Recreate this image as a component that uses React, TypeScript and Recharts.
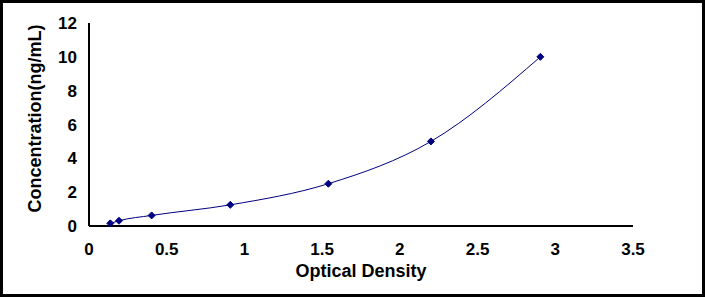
import React from "react";
import { LineChart, Line, XAxis, YAxis, Label, ReferenceDot } from "recharts";

const opticalDensity = [0.137, 0.193, 0.403, 0.909, 1.54, 2.2, 2.904];
const concentration = [0.156, 0.312, 0.625, 1.25, 2.5, 5, 10];
const xTicks = [0, 0.5, 1, 1.5, 2, 2.5, 3, 3.5];
const yTicks = [0, 2, 4, 6, 8, 10, 12];

const data = opticalDensity.map((od, i) => ({ od, conc: concentration[i] }));

const NAVY = "#000080";
const FONT = "'Liberation Sans', Arial, sans-serif";

const Diamond = (props: any) => {
  const { cx, cy } = props;
  if (cx == null || cy == null) return null;
  const r = 3.5;
  return (
    <polygon
      points={`${cx},${cy - r} ${cx + r},${cy} ${cx},${cy + r} ${cx - r},${cy}`}
      fill={NAVY}
      stroke={NAVY}
    />
  );
};

const labelFont = { fill: "#000", fontSize: 17, fontWeight: "bold", fontFamily: FONT };

export default function App() {
  return (
    <div style={{ position: "absolute", left: 0, top: 0, width: 705, height: 297, background: "#fff" }}>
      <LineChart
        width={705}
        height={297}
        data={data}
        margin={{ top: 23, right: 72, bottom: 11, left: 29 }}
      >
        <XAxis
          type="number"
          dataKey="od"
          domain={[0, 3.5]}
          ticks={xTicks}
          interval={0}
          height={60}
          axisLine={{ stroke: "#000", strokeWidth: 2 }}
          tickLine={{ stroke: "#000", strokeWidth: 2 }}
          tickSize={-5}
          tick={false}
        >
          <Label
            value="Optical Density"
            position="center"
            dy={14.5}
            fill="#000"
            fontSize={18}
            fontWeight="bold"
            fontFamily={FONT}
          />
        </XAxis>
        <YAxis
          type="number"
          domain={[0, 12]}
          ticks={yTicks}
          interval={0}
          width={60}
          axisLine={{ stroke: "#000", strokeWidth: 2 }}
          tickLine={{ stroke: "#000", strokeWidth: 2 }}
          tickSize={-5}
          tick={false}
        >
          <Label
            value="Concentration(ng/mL)"
            position="center"
            angle={-90}
            dx={-24.5}
            dy={-6}
            fill="#000"
            fontSize={18}
            fontWeight="bold"
            fontFamily={FONT}
          />
        </YAxis>
        {/* bold tick labels placed through the axis scales */}
        {xTicks.map((v) => (
          <ReferenceDot
            key={`xl-${v}`}
            x={v}
            y={0}
            r={1}
            fill="none"
            stroke="none"
            ifOverflow="visible"
          >
            <Label value={String(v)} position="bottom" offset={16} {...labelFont} />
          </ReferenceDot>
        ))}
        {yTicks.map((v) => (
          <ReferenceDot
            key={`yl-${v}`}
            x={0}
            y={v}
            r={1}
            fill="none"
            stroke="none"
            ifOverflow="visible"
          >
            <Label value={String(v)} position="left" offset={11} {...labelFont} />
          </ReferenceDot>
        ))}
        <Line
          type="monotone"
          dataKey="conc"
          stroke={NAVY}
          strokeWidth={1}
          dot={<Diamond />}
          activeDot={false}
          isAnimationActive={false}
        />
      </LineChart>
      <div
        style={{
          position: "absolute",
          left: 0,
          top: 0,
          width: 705,
          height: 297,
          border: "3px solid #000",
          boxSizing: "border-box",
          pointerEvents: "none",
        }}
      />
    </div>
  );
}
